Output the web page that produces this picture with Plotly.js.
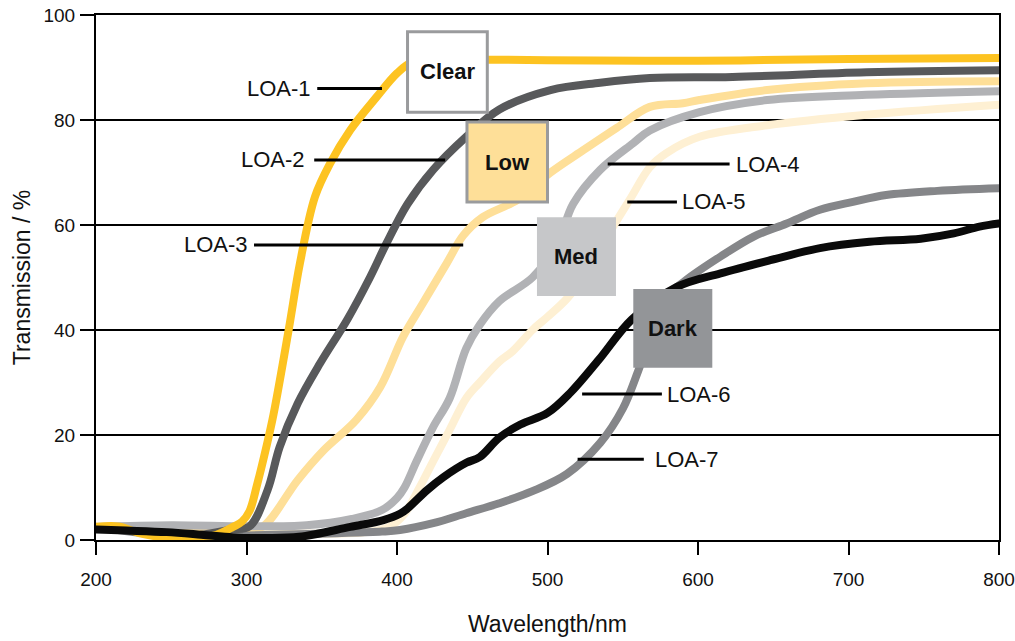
<!DOCTYPE html>
<html>
<head>
<meta charset="utf-8">
<script src="https://cdn.plot.ly/plotly-3.0.1.min.js"></script>
<style>
html,body{margin:0;padding:0;background:#fff;}
#chart{width:1015px;height:641px;}
.scatterlayer path.js-line{stroke-linecap:round;stroke-linejoin:round;}
</style>
</head>
<body>
<div id="chart"></div>
<script>
// Wavelength (nm) and transmission (%) per lens grade
const loa1_x = [200,215,230,250,265,280,291,297,302,307,313,318,328,335.5,345.5,355.5,369,386.5,400,410,430,460,500,600,700,800];
const loa1_y = [2.5,2.6,1.2,0.4,0.4,1.0,2.5,3.5,5.5,10.5,17.5,24,40,52.7,65.4,71.7,78.1,84.4,88.9,91,91.5,91.5,91.4,91.3,91.6,91.8];

const loa2_x = [200,230,250,270,290,302,314,322,334,349,367,382,393,407,424,446,468,502,535,568,623,712,800];
const loa2_y = [2.5,1.5,0.6,1.0,2.0,2.6,9.5,17.7,26,33.7,42,50,56.5,64,70.5,76.8,82,85.7,87.1,88,88.2,89.1,89.5];

const loa3_x = [200,250,290,300,311,334,351,373,389,404,417,433,444,457,480,502,524,546,568,590,601,646,712,800];
const loa3_y = [2.5,1.8,1.5,2.0,2.6,11.4,17,22.9,29.2,38.7,45,52.7,58,61.5,64.8,70,74.3,78.5,82.5,83.2,83.8,85.7,87,87.4];

const loa4_x = [200,250,300,340,370,390,400,405,413,424,435,446,455,468,490,506,517,535,557,568,601,646,712,800];
const loa4_y = [2.5,2.8,2.6,2.8,4.0,5.7,8.0,10,15,21.5,27,36.5,41,45.5,50,56,64,70.5,75.6,78,81.5,83.8,84.8,85.5];

const loa5_x = [200,250,300,350,380,395,405,415,424,435,446,455,468,477,490,500,513,526,540,555,568,579,601,646,712,800];
const loa5_y = [2.5,2.0,1.5,1.2,1.5,2.5,5.0,10,15,21,27,30,34,36,40,42.5,46,51,58,65,71,73.7,76.8,79,81,82.9];

const loa6_x = [200,220,247,270,291,310,335,369,391,402,407,420,431,446,455,468,482,500,515,534,556,586,615,648,681,714,748,770,787,800];
const loa6_y = [2.0,1.8,1.5,1.0,0.5,0.4,0.6,2.5,3.8,5.0,6.0,9.5,12,14.7,15.8,19.5,22,24.2,28,34.3,42,48.2,50.8,53.3,55.6,56.8,57.4,58.4,59.7,60.3];

const loa7_x = [200,240,260,290,320,360,390,402,424,446,468,490,513,535,550,560,566,577,592,615,637,659,681,703,725,759,800];
const loa7_y = [2.5,1.0,0.5,0.8,1.0,1.3,1.6,1.9,3.2,5.1,7.0,9.3,12.6,18.5,25,32,36.8,45.7,49.5,54,57.8,60.3,62.9,64.4,65.7,66.5,67];

const seriesNames = ['LOA-1','LOA-2','LOA-3','LOA-4','LOA-5','LOA-6','LOA-7'];
const xTicks = [200,300,400,500,600,700,800];
const yTicks = [0,20,40,60,80,100];

const boxLabels = ['Clear','Low','Med','Dark'];

const FONT = '"Liberation Sans Narrow","Arial Narrow","Liberation Sans",Arial,sans-serif';

const data = [
  {x: loa5_x, y: loa5_y, color: '#FEF0D3', name: seriesNames[4]},
  {x: loa3_x, y: loa3_y, color: '#FEDF98', name: seriesNames[2]},
  {x: loa4_x, y: loa4_y, color: '#B1B2B5', name: seriesNames[3]},
  {x: loa7_x, y: loa7_y, color: '#858689', name: seriesNames[6]},
  {x: loa2_x, y: loa2_y, color: '#58595B', name: seriesNames[1]},
  {x: loa1_x, y: loa1_y, color: '#FDC321', name: seriesNames[0]},
  {x: loa6_x, y: loa6_y, color: '#0A0A0A', name: seriesNames[5]}
].map(s => ({
  type: 'scatter', mode: 'lines', x: s.x, y: s.y, name: s.name,
  line: {color: s.color, width: 8, shape: 'spline', smoothing: 1},
  hoverinfo: 'skip', showlegend: false
}));

const leaders = [
  {x0: 347, x1: 390, y: 86,   tx: 344, anchor: 'right', name: seriesNames[0]},
  {x0: 345, x1: 432, y: 72.4, tx: 340, anchor: 'right', name: seriesNames[1]},
  {x0: 305, x1: 444, y: 56.2, tx: 302, anchor: 'right', name: seriesNames[2]},
  {x0: 540, x1: 621, y: 71.6, tx: 624, anchor: 'left',  name: seriesNames[3]},
  {x0: 553, x1: 586, y: 64.4, tx: 588, anchor: 'left',  name: seriesNames[4]},
  {x0: 523, x1: 576, y: 27.8, tx: 578, anchor: 'left',  name: seriesNames[5]},
  {x0: 520, x1: 564, y: 15.4, tx: 570, anchor: 'left',  name: seriesNames[6]}
];

const boxes = [
  {x0: 407, x1: 460, y0: 81.5, y1: 96.8, fill: '#FFFFFF', border: '#9A9B9D', bw: 3},
  {x0: 446.5, x1: 500, y0: 64.4, y1: 79.6, fill: '#FEDF98', border: '#9A9B9D', bw: 3},
  {x0: 493, x1: 545.5, y0: 46.5, y1: 61.5, fill: '#C6C7C9', border: '#C6C7C9', bw: 0},
  {x0: 557, x1: 609.5, y0: 32.8, y1: 47.8, fill: '#939598', border: '#939598', bw: 0}
];

const shapes = [];
const annotations = [];
leaders.forEach(l => {
  shapes.push({type: 'line', xref: 'x', yref: 'y', x0: l.x0, x1: l.x1, y0: l.y, y1: l.y,
    line: {color: '#000', width: 3}, layer: 'above'});
  annotations.push({xref: 'x', yref: 'y', x: l.tx, y: l.y, text: l.name, showarrow: false,
    xanchor: l.anchor, yanchor: 'middle', font: {family: FONT, size: 22, color: '#111'}});
});
boxes.forEach((b, i) => {
  shapes.push({type: 'rect', xref: 'x', yref: 'y', x0: b.x0, x1: b.x1, y0: b.y0, y1: b.y1,
    fillcolor: b.fill, line: {color: b.border, width: b.bw}, layer: 'above'});
  annotations.push({xref: 'x', yref: 'y', x: (b.x0 + b.x1) / 2, y: (b.y0 + b.y1) / 2,
    text: '<b>' + boxLabels[i] + '</b>', showarrow: false, xanchor: 'center', yanchor: 'middle',
    font: {family: FONT, size: 22, color: '#111'}});
});

const layout = {
  width: 1015, height: 641,
  margin: {l: 96, r: 16, t: 15, b: 101, pad: 0},
  paper_bgcolor: '#fff', plot_bgcolor: '#fff',
  font: {family: FONT, color: '#111'},
  xaxis: {
    range: [200, 800], tickvals: xTicks, ticktext: xTicks.map(String),
    showline: true, linecolor: '#000', linewidth: 2, mirror: true,
    ticks: 'outside', ticklen: 13, tickwidth: 2, tickcolor: '#000',
    showgrid: false, zeroline: false, ticklabeloverflow: 'allow',
    tickfont: {family: FONT, size: 19, color: '#111'}, ticklabelstandoff: 8,
    title: {text: 'Wavelength/nm', font: {family: FONT, size: 23, color: '#111'}, standoff: 27}
  },
  yaxis: {
    range: [0, 100], tickvals: yTicks, ticktext: yTicks.map(String),
    showline: true, linecolor: '#000', linewidth: 2, mirror: true,
    ticks: 'outside', ticklen: 14, tickwidth: 2, tickcolor: '#000',
    showgrid: true, gridcolor: '#000', gridwidth: 1.3, zeroline: false, ticklabeloverflow: 'allow',
    tickfont: {family: FONT, size: 19, color: '#111'}, ticklabelstandoff: 1,
    title: {text: 'Transmission / %', font: {family: FONT, size: 23, color: '#111'}, standoff: 6}
  },
  shapes: shapes,
  annotations: annotations,
  showlegend: false
};

Plotly.newPlot('chart', data, layout, {staticPlot: true, displayModeBar: false});
</script>
</body>
</html>
